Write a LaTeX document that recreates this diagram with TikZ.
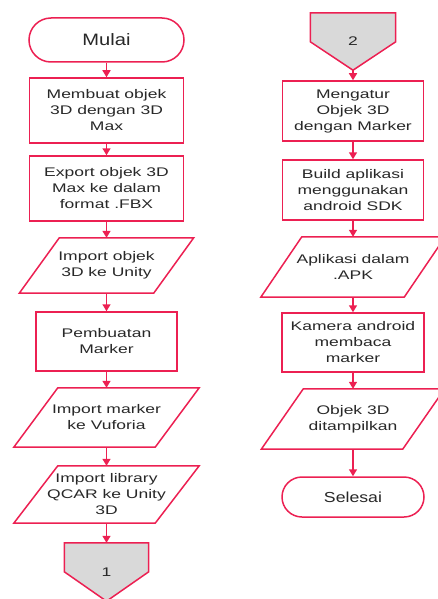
\documentclass[tikz,border=0pt]{standalone}
\usepackage{fontspec}
\setmainfont[FakeStretch=1.4]{Liberation Sans}
\newfontfamily\termfont[FakeStretch=1.22]{Liberation Sans}
\usetikzlibrary{arrows.meta,calc,backgrounds}
\definecolor{fcline}{RGB}{236,32,82}
\definecolor{fctext}{RGB}{40,40,40}
\definecolor{fcgray}{RGB}{217,217,217}
\begin{document}
\begin{tikzpicture}[x=1pt,y=-1pt,
  every node/.style={text=fctext, font=\fontsize{12.5}{16}\selectfont},
  procbox/.style={draw=fcline, line width=1.5pt, fill=white, rectangle, inner sep=0pt, align=center},
  term/.style={draw=fcline, line width=1.5pt, fill=white, rectangle, rounded corners=#1, inner sep=0pt, align=center},
  iobox/.style={rectangle, inner sep=0pt, align=center},
  connbox/.style={rectangle, inner sep=0pt},
  outline/.style={draw=fcline, line width=1.5pt},
  arr/.style={draw=fcline, line width=1.5pt, -{Triangle[width=8pt,length=7pt]}}
]
\useasboundingbox (0,0) rectangle (438,599);

% left column
\node[term=22pt, minimum width=155pt, minimum height=44pt, font=\termfont\fontsize{16.5}{20}\selectfont] (start) at (106.5,40) {Mulai};
\node[procbox, minimum width=154pt, minimum height=65pt] (b1) at (106.5,110.5) {Membuat objek\\3D dengan 3D\\Max};
\node[procbox, minimum width=154pt, minimum height=65pt] (b2) at (106.5,188.5) {Export objek 3D\\Max ke dalam\\format .FBX};
\node[iobox, minimum width=134pt, minimum height=55pt] (p1) at (106.5,265.5) {Import objek\\3D ke Unity};
\node[procbox, minimum width=141pt, minimum height=59pt] (b3) at (106.5,341.5) {Pembuatan\\Marker};
\node[iobox, minimum width=141pt, minimum height=59pt] (p2) at (106.5,417.5) {Import marker\\ke Vuforia};
\node[iobox, minimum width=141pt, minimum height=57pt] (p3) at (106.5,494.5) {Import library\\QCAR ke Unity\\3D};
\node[connbox, minimum width=84pt, minimum height=58pt] (c1) at (106.5,572) {};
\node (c1t) at (c1) {1};

% right column
\node[connbox, minimum width=85pt, minimum height=57pt] (c2) at (353,41.5) {};
\node (c2t) at (c2) {2};
\node[procbox, minimum width=141pt, minimum height=60pt] (r1) at (353,111) {Mengatur\\Objek 3D\\dengan Marker};
\node[procbox, minimum width=141pt, minimum height=60pt] (r2) at (353,190) {Build aplikasi\\menggunakan\\android SDK};
\node[iobox, minimum width=143pt, minimum height=60pt] (r3) at (353,267) {Aplikasi dalam\\.APK};
\node[procbox, minimum width=142pt, minimum height=59pt] (r4) at (353,342.5) {Kamera android\\membaca\\marker};
\node[iobox, minimum width=141pt, minimum height=60pt] (r5) at (353,419) {Objek 3D\\ditampilkan};
\node[term=20pt, minimum width=142pt, minimum height=40pt, font=\termfont\fontsize{14.5}{18}\selectfont] (end) at (353,497) {Selesai};

% parallelogram outlines
\foreach \n/\s in {p1/20,p2/22,p3/22,r3/20.5,r5/21}{
  \draw[outline] ([xshift=\s pt]\n.north west) -- ([xshift=\s pt]\n.north east)
    -- ([xshift=-\s pt]\n.south east) -- ([xshift=-\s pt]\n.south west) -- cycle;
}

% off-page connectors
\begin{pgfonlayer}{background}
\foreach \n in {c1,c2}{
  \draw[outline, fill=fcgray] (\n.north west) -- (\n.north east) -- ($(\n.north east)+(0,29)$)
    -- (\n.south) -- ($(\n.north west)+(0,29)$) -- cycle;
}
\end{pgfonlayer}

% connectors
\draw[arr] (start.south) -- (b1.north);
\draw[arr] (b1.south) -- (b2.north);
\draw[arr] (b2.south) -- (p1.north);
\draw[arr] (p1.south) -- (b3.north);
\draw[arr] (b3.south) -- (p2.north);
\draw[arr] (p2.south) -- (p3.north);
\draw[arr] (p3.south) -- (c1.north);
\draw[arr] (c2.south) -- (r1.north);
\draw[arr] (r1.south) -- (r2.north);
\draw[arr] (r2.south) -- (r3.north);
\draw[arr] (r3.south) -- (r4.north);
\draw[arr] (r4.south) -- (r5.north);
\draw[arr] (r5.south) -- (end.north);
\end{tikzpicture}
\end{document}
